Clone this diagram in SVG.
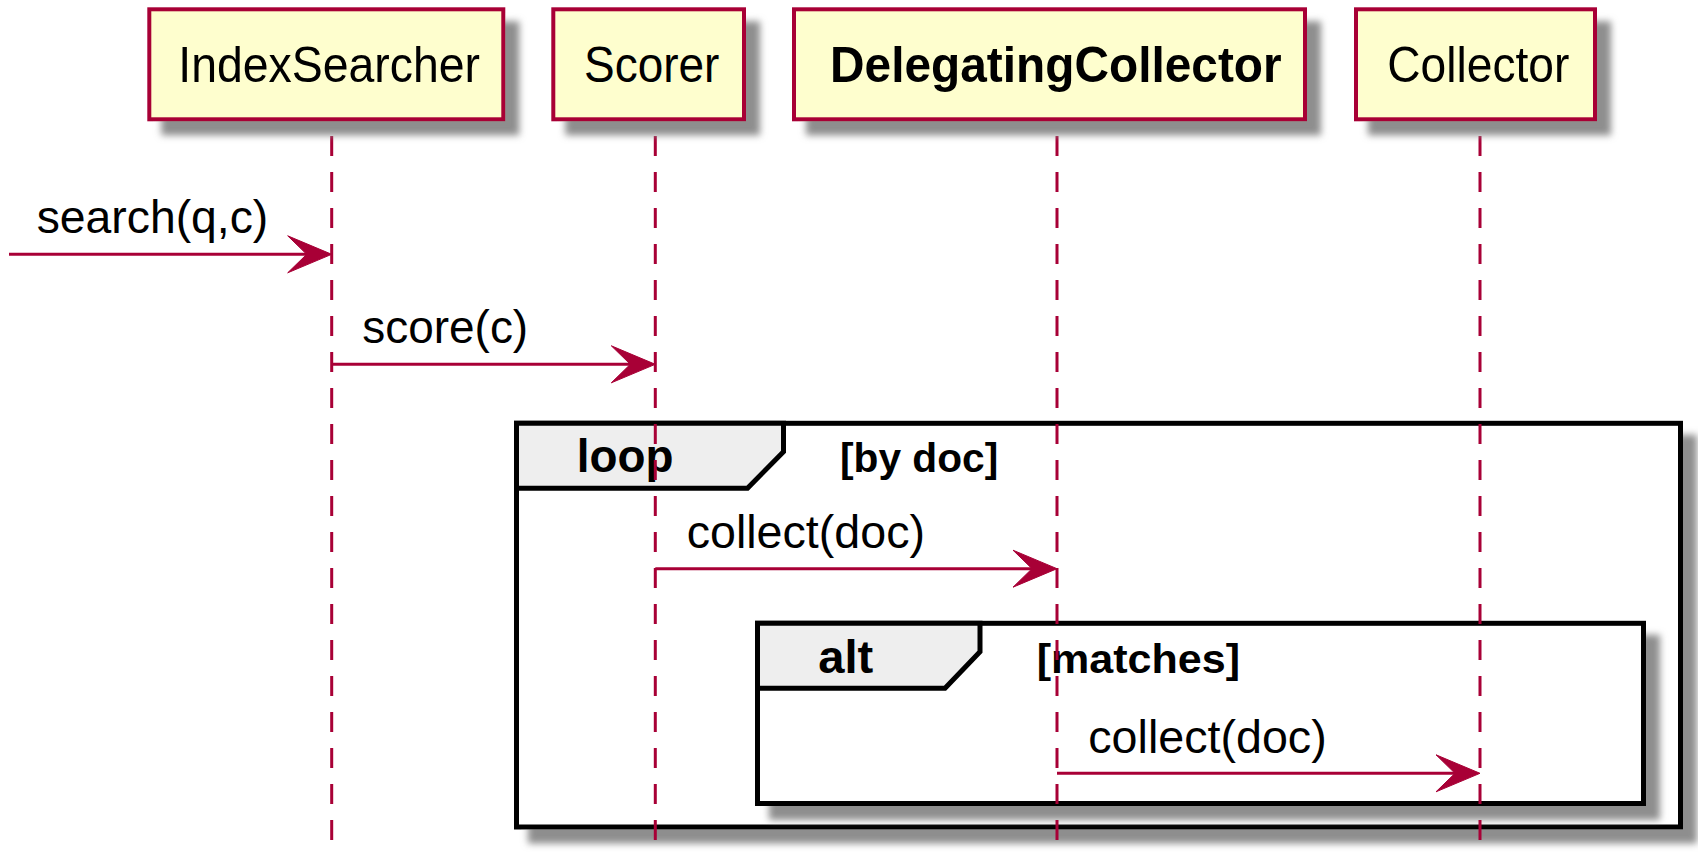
<svg xmlns="http://www.w3.org/2000/svg" xmlns:xlink="http://www.w3.org/1999/xlink" width="1698" height="852" viewBox="0 0 1698 852">
<style>
.part{fill:#FEFECE;stroke:#A80036;stroke-width:4}
.ptxt{font-family:"Liberation Sans",Arial,sans-serif;font-size:50px;fill:#000}
.pbold{font-weight:bold}
.life{stroke:#A80036;stroke-width:3;stroke-dasharray:20 16;fill:none}
.frame{fill:#FFFFFF;stroke:#000;stroke-width:5}
.tab{fill:#EEEEEE;stroke:#000;stroke-width:5;stroke-linejoin:miter}
.ftxt{font-family:"Liberation Sans",Arial,sans-serif;font-weight:bold;fill:#000}
.msg{stroke:#A80036;stroke-width:3;fill:none}
.mtxt{font-family:"Liberation Sans",Arial,sans-serif;font-size:46.5px;fill:#000}
.head{fill:#A80036;stroke:#A80036;stroke-width:1}
</style>
<defs>
<filter id="sh" x="-5%" y="-10%" width="120%" height="150%">
<feGaussianBlur in="SourceAlpha" stdDeviation="3.5"/>
<feOffset dx="14" dy="14" result="b"/>
<feFlood flood-color="#8E8E8E"/>
<feComposite in2="b" operator="in" result="s"/>
<feMerge><feMergeNode in="s"/><feMergeNode in="SourceGraphic"/></feMerge>
</filter>
<path id="ah" d="M0,0 L-44,-18.5 L-25,0 L-44,18.5 Z"/>
</defs>
<rect width="1698" height="852" fill="#FFFFFF"/>

<g id="loop">
<rect class="frame" x="516.5" y="423.3" width="1164" height="403.7" filter="url(#sh)"/>
<polygon class="tab" points="516.5,423.3 783.5,423.3 783.5,451.7 747.5,488.3 516.5,488.3"/>
<text class="ftxt" x="576.7" y="471.7" font-size="47" textLength="96.7" lengthAdjust="spacingAndGlyphs">loop</text>
<text class="ftxt" x="840" y="471.7" font-size="41" textLength="158.3" lengthAdjust="spacingAndGlyphs">[by doc]</text>
</g>
<g id="alt">
<rect class="frame" x="757.5" y="623.3" width="886" height="180.2" filter="url(#sh)"/>
<polygon class="tab" points="757.5,623.3 980,623.3 980,651.7 945,688.3 757.5,688.3"/>
<text class="ftxt" x="818.3" y="673.3" font-size="47" textLength="55" lengthAdjust="spacingAndGlyphs">alt</text>
<text class="ftxt" x="1036.7" y="673.3" font-size="41" textLength="203.3" lengthAdjust="spacingAndGlyphs">[matches]</text>
</g>

<g id="lifelines">
<line class="life" x1="331.7" y1="136" x2="331.7" y2="852"/>
<line class="life" x1="655.3" y1="136" x2="655.3" y2="852"/>
<line class="life" x1="1057" y1="136" x2="1057" y2="852"/>
<line class="life" x1="1480" y1="136" x2="1480" y2="852"/>
</g>

<g id="IndexSearcher">
<rect class="part" x="149.3" y="9.3" width="354" height="110" filter="url(#sh)"/>
<text class="ptxt" x="178.3" y="81.7" textLength="301.7" lengthAdjust="spacingAndGlyphs">IndexSearcher</text>
</g>
<g id="Scorer">
<rect class="part" x="553.3" y="9.3" width="190.7" height="110" filter="url(#sh)"/>
<text class="ptxt" x="584" y="81.7" textLength="135.4" lengthAdjust="spacingAndGlyphs">Scorer</text>
</g>
<g id="DelegatingCollector">
<rect class="part" x="794" y="9.3" width="511" height="110" filter="url(#sh)"/>
<text class="ptxt pbold" x="830" y="81.7" textLength="451.7" lengthAdjust="spacingAndGlyphs">DelegatingCollector</text>
</g>
<g id="Collector">
<rect class="part" x="1356" y="9.3" width="239" height="110" filter="url(#sh)"/>
<text class="ptxt" x="1387.3" y="81.7" textLength="182" lengthAdjust="spacingAndGlyphs">Collector</text>
</g>

<g id="connectors">
<line class="msg" x1="9" y1="254.3" x2="320" y2="254.3"/>
<use href="#ah" xlink:href="#ah" class="head" transform="translate(331.7,254.3)"/>
<text class="mtxt" x="36.7" y="233.3" textLength="231.6" lengthAdjust="spacingAndGlyphs">search(q,c)</text>

<line class="msg" x1="331.7" y1="364.3" x2="644" y2="364.3"/>
<use href="#ah" xlink:href="#ah" class="head" transform="translate(655.3,364.3)"/>
<text class="mtxt" x="362.2" y="343.3" textLength="166" lengthAdjust="spacingAndGlyphs">score(c)</text>

<line class="msg" x1="655.3" y1="568.7" x2="1045" y2="568.7"/>
<use href="#ah" xlink:href="#ah" class="head" transform="translate(1057,568.7)"/>
<text class="mtxt" x="686.7" y="547.7" textLength="238.3" lengthAdjust="spacingAndGlyphs">collect(doc)</text>

<line class="msg" x1="1057" y1="773.3" x2="1468" y2="773.3"/>
<use href="#ah" xlink:href="#ah" class="head" transform="translate(1480,773.3)"/>
<text class="mtxt" x="1088.3" y="752.8" textLength="238.4" lengthAdjust="spacingAndGlyphs">collect(doc)</text>
</g>
</svg>
